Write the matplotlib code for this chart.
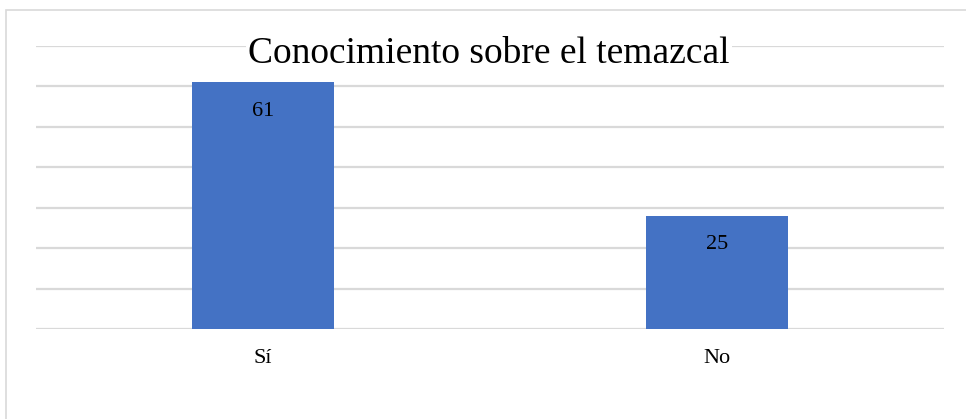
import matplotlib.pyplot as plt
from matplotlib.patches import Rectangle

# data
categories = ['Sí', 'No']
values = [61, 28]          # bar heights as drawn
labels = ['61', '25']      # data labels as printed
yticks = [0, 10, 20, 30, 40, 50, 60, 70]

plt.rcParams['font.family'] = ['Liberation Serif', 'DejaVu Serif']

fig = plt.figure(figsize=(9.66, 4.19), dpi=100)
ax = fig.add_axes([36/966, 1 - 329/419, 908/966, (329 - 45.7)/419])

# outer chart border
fig.patches.append(Rectangle((6/966, -0.1), 1.1, 1.1 - 10/419, transform=fig.transFigure,
                             fill=False, edgecolor='#d9d9d9', linewidth=1.2))

x = range(len(categories))
ax.bar(x, values, width=0.313, color='#4472C4', zorder=3)
for xi, v, lab in zip(x, values, labels):
    ax.text(xi, v - 7.2, lab, ha='center', va='center', fontsize=16, zorder=4)

ax.set_xlim(-0.5, 1.5)
ax.set_ylim(0, 70)
ax.set_yticks(yticks)
ax.yaxis.grid(True, color='#d9d9d9', linewidth=1.6, zorder=0)
ax.tick_params(axis='y', left=False, labelleft=False)
ax.tick_params(axis='x', bottom=False, labelsize=16, pad=11)
ax.set_xticks(list(x))
ax.set_xticklabels(categories)
for s in ax.spines.values():
    s.set_visible(False)

fig.text(489/966, 1 - 54/419, 'Conocimiento sobre el temazcal', ha='center', va='center',
         fontsize=27, bbox=dict(facecolor='white', edgecolor='none', pad=2))

fig.savefig('out.png', dpi=100)
